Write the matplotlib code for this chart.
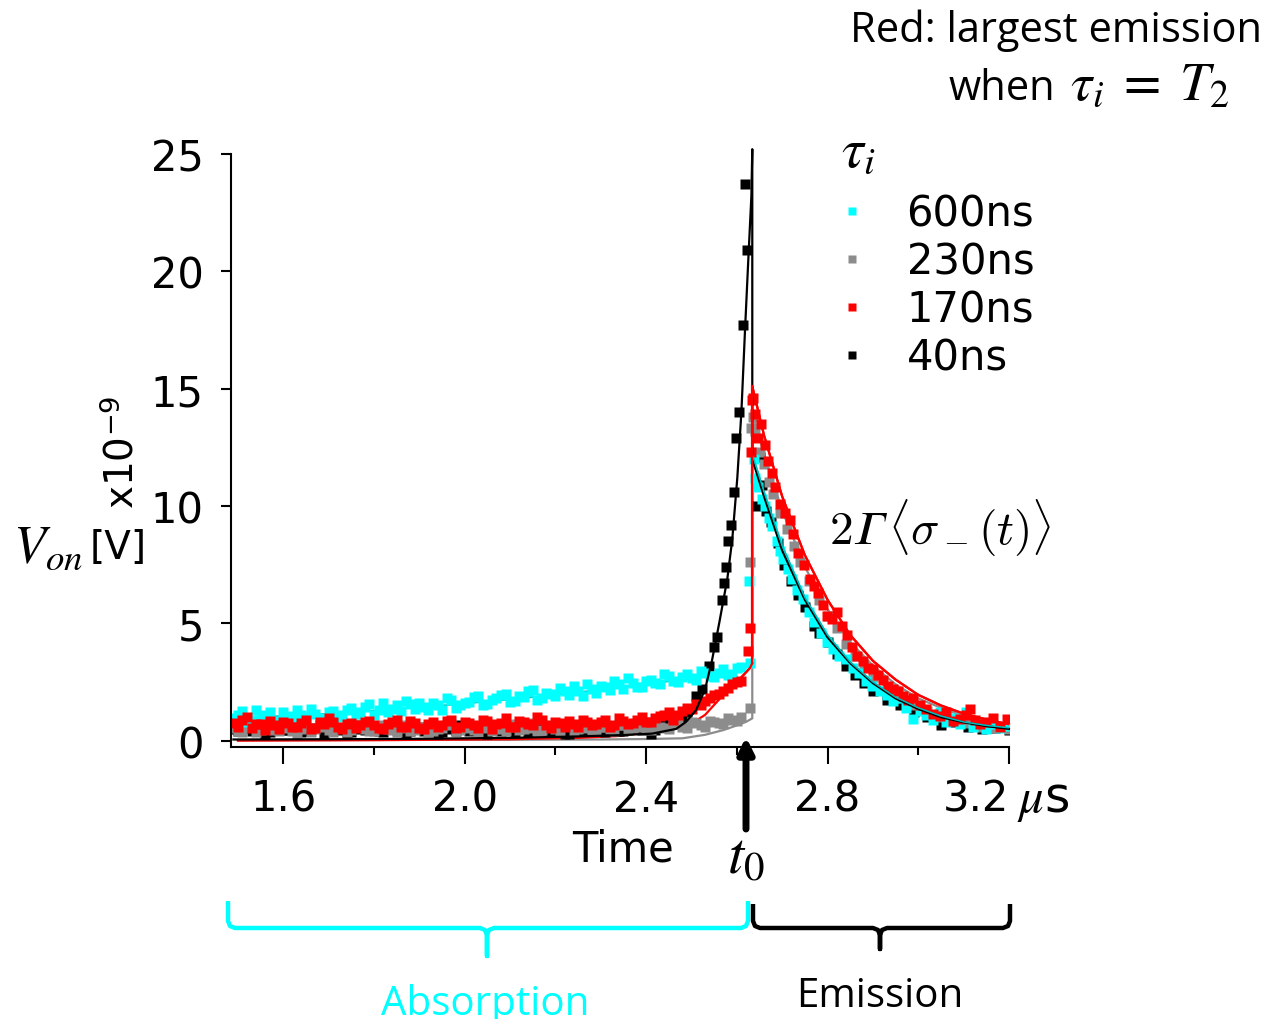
import matplotlib
matplotlib.use("Agg")
import matplotlib.pyplot as plt
from matplotlib.lines import Line2D

plt.rcParams['mathtext.fontset'] = 'stix'

# ---- data ----
t_abs = [1.49, 1.51, 1.53, 1.55, 1.57, 1.59, 1.61, 1.63, 1.65, 1.67,
         1.69, 1.71, 1.73, 1.75, 1.77, 1.79, 1.81, 1.83, 1.85, 1.87,
         1.89, 1.91, 1.93, 1.95, 1.97, 1.99, 2.01, 2.03, 2.05, 2.07,
         2.09, 2.11, 2.13, 2.15, 2.17, 2.19, 2.21, 2.23, 2.25, 2.27,
         2.29, 2.31, 2.33, 2.35, 2.37, 2.39, 2.41, 2.43, 2.45, 2.47,
         2.49, 2.51, 2.53, 2.55, 2.57, 2.59, 2.61]

cyan_abs = [0.95, 1.25, 0.9, 1.1, 1.2, 0.85, 1.05, 1.3, 1.0, 1.15,
            0.95, 1.25, 1.1, 1.4, 1.2, 1.55, 1.3, 1.2, 1.5, 1.7,
            1.35, 1.45, 1.6, 1.3, 1.75, 1.5, 1.65, 1.9, 1.55, 1.8,
            2.0, 1.7, 1.85, 2.15, 1.8, 2.0, 2.25, 1.95, 2.1, 2.4,
            2.05, 2.3, 2.55, 2.2, 2.45, 2.3, 2.6, 2.4, 2.75, 2.5,
            2.85, 2.6, 2.9, 2.7, 3.05, 2.85, 3.15]
red_abs = [0.75, 0.9, 0.55, 0.7, 0.85, 0.5, 0.75, 0.6, 0.9, 0.55,
           0.7, 0.8, 0.5, 0.75, 0.65, 0.85, 0.55, 0.7, 0.9, 0.6,
           0.75, 0.5, 0.8, 0.65, 0.9, 0.6, 0.75, 0.55, 0.85, 0.7,
           0.95, 0.6, 0.8, 0.65, 0.9, 0.55, 0.75, 0.85, 0.6, 0.8,
           0.7, 0.9, 0.65, 0.85, 0.75, 1.0, 0.8, 1.05, 1.2, 1.1,
           1.4, 1.55, 1.7, 1.95, 2.1, 2.4, 2.55]
gray_abs = [0.55, 0.35, 0.6, 0.45, 0.7, 0.4, 0.55, 0.3, 0.6, 0.5,
            0.65, 0.35, 0.55, 0.45, 0.7, 0.4, 0.6, 0.5, 0.35, 0.65,
            0.45, 0.6, 0.4, 0.55, 0.7, 0.45, 0.6, 0.35, 0.55, 0.65,
            0.4, 0.6, 0.5, 0.75, 0.45, 0.6, 0.4, 0.65, 0.5, 0.7,
            0.45, 0.6, 0.4, 0.65, 0.55, 0.7, 0.45, 0.6, 0.5, 0.7,
            0.55, 0.75, 0.6, 0.8, 0.7, 0.9, 1.0]
black_abs = [0.5, 0.65, 0.4, 0.55, 0.35, 0.6, 0.45, 0.7, 0.4, 0.55,
             0.3, 0.6, 0.45, 0.35, 0.6, 0.5, 0.4, 0.65, 0.45, 0.3,
             0.55, 0.4, 0.6, 0.35, 0.5, 0.65, 0.4, 0.55, 0.3, 0.5,
             0.6, 0.35, 0.55, 0.45, 0.65, 0.4, 0.5, 0.3, 0.6, 0.45,
             0.55, 0.35, 0.6, 0.4, 0.55, 0.45, 0.3, 0.6, 0.7, 0.9,
             1.2]
# in-between samples (second row of the noisy band)
t_abs2 = [1.50, 1.52, 1.54, 1.56, 1.58, 1.60, 1.62, 1.64, 1.66, 1.68,
          1.70, 1.72, 1.74, 1.76, 1.78, 1.80, 1.82, 1.84, 1.86, 1.88,
          1.90, 1.92, 1.94, 1.96, 1.98, 2.00, 2.02, 2.04, 2.06, 2.08,
          2.10, 2.12, 2.14, 2.16, 2.18, 2.20, 2.22, 2.24, 2.26, 2.28,
          2.30, 2.32, 2.34, 2.36, 2.38, 2.40, 2.42, 2.44, 2.46, 2.48,
          2.50, 2.52, 2.54, 2.56, 2.58, 2.60]
cyan_abs2 = [1.1, 0.8, 1.3, 1.0, 0.75, 1.2, 0.95, 1.1, 1.35, 0.9,
             1.2, 1.0, 1.3, 1.15, 1.45, 1.1, 1.6, 1.35, 1.25, 1.55,
             1.6, 1.3, 1.5, 1.8, 1.4, 1.6, 1.85, 1.5, 1.75, 1.95,
             1.65, 1.9, 2.1, 1.75, 2.05, 1.9, 2.1, 2.35, 1.9, 2.2,
             2.35, 2.15, 2.4, 2.65, 2.3, 2.55, 2.45, 2.85, 2.55, 2.7,
             2.65, 2.95, 2.75, 2.9, 2.8, 3.1]
red_abs2 = [0.6, 1.0, 0.7, 0.45, 0.65, 0.8, 0.6, 0.75, 0.5, 0.8,
            0.95, 0.6, 0.7, 0.55, 0.8, 0.65, 0.5, 0.8, 0.6, 0.85,
            0.55, 0.7, 0.6, 0.85, 0.55, 0.8, 0.65, 0.9, 0.5, 0.75,
            0.6, 0.85, 0.7, 1.0, 0.65, 0.8, 0.6, 0.7, 0.9, 0.65,
            0.8, 0.6, 0.95, 0.7, 0.9, 0.8, 0.95, 1.1, 0.9, 1.25,
            1.35, 1.5, 1.8, 2.0, 2.25, 2.5]
gray_abs2 = [0.4, 0.6, 0.35, 0.55, 0.45, 0.65, 0.4, 0.5, 0.35, 0.6,
             0.45, 0.55, 0.35, 0.6, 0.5, 0.4, 0.65, 0.45, 0.55, 0.4,
             0.6, 0.35, 0.5, 0.65, 0.4, 0.55, 0.45, 0.6, 0.4, 0.5,
             0.7, 0.45, 0.55, 0.4, 0.6, 0.5, 0.65, 0.4, 0.55, 0.45,
             0.6, 0.5, 0.65, 0.45, 0.6, 0.5, 0.65, 0.55, 0.75, 0.6,
             0.8, 0.65, 0.85, 0.75, 0.95, 0.85]
black_abs2 = [0.4, 0.55, 0.6, 0.3, 0.5, 0.45, 0.6, 0.35, 0.5, 0.65,
              0.4, 0.55, 0.3, 0.5, 0.45, 0.6, 0.35, 0.55, 0.5, 0.4,
              0.6, 0.45, 0.3, 0.55, 0.4, 0.6, 0.45, 0.35, 0.55, 0.4,
              0.5, 0.6, 0.35, 0.5, 0.45, 0.55, 0.3, 0.5, 0.4, 0.6,
              0.45, 0.55, 0.4, 0.5, 0.6, 0.5, 0.45, 0.65, 0.8, 1.0]
# black 40ns rises steeply before t0
black_rise_t = [2.51, 2.524, 2.539, 2.55, 2.557, 2.568, 2.572, 2.577, 2.581,
                2.588, 2.594, 2.599, 2.605, 2.614, 2.618, 2.623]
black_rise_v = [1.9, 2.2, 3.2, 4.0, 4.4, 6.0, 6.7, 7.4, 8.5,
                9.2, 10.6, 12.9, 14.0, 17.7, 23.7, 20.9]

# points sitting on the switch at t0
cyan_jump_t = [2.627, 2.629]
cyan_jump_v = [6.8, 3.3]
red_jump_t = [2.625, 2.628, 2.631, 2.633]
red_jump_v = [3.8, 4.8, 12.3, 14.5]
gray_jump_t = [2.628, 2.628, 2.631]
gray_jump_v = [1.4, 7.6, 13.3]

# emission side
cyan_em_t = [2.637, 2.641, 2.646, 2.655, 2.662, 2.67, 2.677, 2.688, 2.695, 2.702,
             2.712, 2.721, 2.733, 2.745, 2.758, 2.771, 2.785, 2.798, 2.811, 2.826,
             2.841, 2.855, 2.87, 2.885, 2.899, 2.915, 2.93, 2.945, 2.959, 2.974,
             2.988, 3.003, 3.018, 3.032, 3.047, 3.062, 3.077, 3.091, 3.106, 3.12,
             3.135, 3.15, 3.165, 3.18, 3.195]
cyan_em_v = [12.0, 11.2, 10.8, 10.3, 10.0, 9.5, 9.15, 8.5, 8.1, 7.75,
             7.3, 6.9, 6.4, 6.05, 5.5, 5.05, 4.6, 4.2, 3.9, 3.6,
             3.5, 3.1, 2.9, 2.55, 2.35, 2.1, 1.95, 1.7, 1.8, 1.4,
             0.92, 1.25, 1.1, 0.9, 1.2, 0.8, 0.95, 0.7, 1.2, 0.6,
             0.75, 0.5, 0.7, 0.55, 0.63]
red_em_t = [2.636, 2.641, 2.646, 2.654, 2.662, 2.668, 2.677, 2.684, 2.695, 2.706,
            2.717, 2.723, 2.734, 2.748, 2.761, 2.77, 2.779, 2.79, 2.798, 2.81,
            2.82, 2.831, 2.842, 2.853, 2.864, 2.878, 2.89, 2.9, 2.911, 2.922,
            2.933, 2.944, 2.955, 2.966, 2.977, 2.988, 3.003, 3.018, 3.032, 3.047,
            3.062, 3.077, 3.092, 3.105, 3.113, 3.125, 3.137, 3.15, 3.165, 3.18,
            3.195]
red_em_v = [14.6, 13.9, 12.9, 13.5, 12.6, 11.9, 11.4, 10.8, 10.1, 9.7,
            9.4, 8.8, 8.0, 7.5, 6.9, 6.6, 6.3, 5.8, 5.3, 5.2,
            5.5, 4.9, 4.5, 4.0, 3.6, 3.4, 3.1, 3.05, 2.8, 2.6,
            2.35, 2.2, 2.1, 1.9, 1.75, 1.8, 1.5, 1.35, 1.15, 1.05,
            1.2, 0.85, 0.92, 1.1, 1.35, 0.9, 0.7, 0.8, 0.95, 0.6,
            0.92]
gray_em_t = [2.636, 2.641, 2.65, 2.66, 2.67, 2.68, 2.695, 2.71, 2.725, 2.74,
             2.76, 2.78, 2.8, 2.82, 2.84, 2.86, 2.88, 2.9, 2.93, 2.96,
             2.99, 3.02, 3.05, 3.08, 3.11, 3.14, 3.17, 3.2]
gray_em_v = [13.8, 13.2, 12.3, 11.8, 11.0, 10.5, 9.7, 9.0, 8.3, 7.6,
             6.8, 6.0, 5.3, 4.8, 4.1, 3.6, 3.2, 2.7, 2.2, 1.8,
             1.5, 1.25, 1.0, 0.85, 0.75, 0.6, 0.55, 0.5]
black_em_t = [2.643, 2.65, 2.655, 2.665, 2.675, 2.69, 2.705, 2.72, 2.735, 2.75,
              2.77, 2.78, 2.8, 2.82, 2.84, 2.86, 2.88, 2.9, 2.93, 2.96,
              2.99, 3.02, 3.05, 3.08, 3.11, 3.14, 3.17, 3.2]
black_em_v = [10.0, 12.1, 10.9, 9.8, 9.3, 8.4, 7.5, 6.8, 6.2, 5.7,
              4.9, 4.6, 4.2, 3.7, 3.2, 2.8, 2.45, 2.1, 1.75, 1.5,
              1.2, 1.0, 0.65, 0.8, 0.6, 0.5, 0.55, 0.45]

# model curves
fit_em_t = [2.66, 2.70, 2.75, 2.80, 2.85, 2.90, 2.95, 3.00, 3.05, 3.10, 3.15, 3.20]
t_switch = 2.634

black_fit_t = [1.49, 1.7, 1.9, 2.1, 2.25, 2.35, 2.413, 2.466, 2.488, 2.51, 2.53,
               2.545, 2.561, 2.579, 2.59, 2.601, 2.61, 2.618, 2.625, 2.632, t_switch]
black_fit_v = [0.05, 0.06, 0.08, 0.12, 0.18, 0.24, 0.3, 0.5, 0.8, 1.3, 2.2,
               3.4, 5.0, 6.9, 8.6, 11.2, 14.0, 17.5, 20.4, 23.2, 25.2]
black_fit_em = [12.0, 10.4, 8.1, 6.0, 4.4, 3.3, 2.45, 1.8, 1.35, 1.0, 0.78, 0.62, 0.5]

cyan_fit_t = [1.49, 1.6, 1.7, 1.8, 1.9, 2.0, 2.1, 2.2, 2.3, 2.4, 2.5, 2.55, 2.6, t_switch]
cyan_fit_v = [1.0, 1.05, 1.15, 1.28, 1.42, 1.58, 1.76, 1.96, 2.17, 2.4, 2.66, 2.8, 3.0, 3.2]
cyan_fit_em = [12.2, 10.6, 8.3, 6.1, 4.5, 3.35, 2.5, 1.85, 1.4, 1.05, 0.8, 0.65, 0.55]

red_fit_t = [1.50, 1.8, 2.1, 2.25, 2.34, 2.42, 2.49, 2.53, 2.563, 2.59, 2.61, 2.629, t_switch]
red_fit_v = [0.0, 0.02, 0.06, 0.12, 0.2, 0.4, 0.6, 1.1, 1.8, 2.3, 2.7, 3.1, 3.3]
red_fit_em = [15.1, 13.0, 10.4, 7.9, 6.0, 4.5, 3.4, 2.6, 1.95, 1.5, 1.15, 0.9, 0.7]

gray_fit_t = [1.50, 1.8, 2.1, 2.3, 2.4, 2.48, 2.53, 2.57, 2.60, 2.62, t_switch]
gray_fit_v = [0.02, 0.03, 0.04, 0.05, 0.07, 0.1, 0.25, 0.45, 0.65, 0.8, 0.95]
gray_fit_em = [14.0, 12.2, 9.8, 7.4, 5.6, 4.2, 3.2, 2.4, 1.8, 1.4, 1.05, 0.8, 0.65]

labels = ['600ns', '230ns', '170ns', '40ns']
CYAN, GRAY, RED, BLACK = '#00FFFF', '#8C8C8C', '#FF0000', '#000000'

W, H = 1268, 1020
fig = plt.figure(figsize=(W / 100, H / 100), dpi=100)
ax = fig.add_axes([231 / W, 1 - 748 / H, 778 / W, 599 / H])
ms = 6.8


def fit_line(ta, va, vem, color, lw=1.6, z=1.5):
    ax.plot(ta + [t_switch] + fit_em_t, va + vem, color=color, lw=lw,
            clip_on=False, zorder=z)


fit_line(gray_fit_t, gray_fit_v, gray_fit_em, '#8C8C8C')
fit_line(cyan_fit_t, cyan_fit_v, cyan_fit_em, '#00C8C8', lw=1.3)
fit_line(red_fit_t, red_fit_v, red_fit_em, RED)

# markers: black, gray, cyan, red (red on top)
hb, = ax.plot(t_abs[:51] + t_abs2[:50] + black_rise_t + black_em_t,
              black_abs + black_abs2 + black_rise_v + black_em_v,
              's', color=BLACK, ms=ms, mec='none', zorder=2)
hg, = ax.plot(t_abs + t_abs2 + gray_jump_t + gray_em_t,
              gray_abs + gray_abs2 + gray_jump_v + gray_em_v,
              's', color=GRAY, ms=ms, mec='none', zorder=2.1)
hc, = ax.plot(t_abs + t_abs2 + cyan_jump_t + cyan_em_t,
              cyan_abs + cyan_abs2 + cyan_jump_v + cyan_em_v,
              's', color=CYAN, ms=ms, mec='none', zorder=2.2)
hr, = ax.plot(t_abs + t_abs2 + red_jump_t + red_em_t,
              red_abs + red_abs2 + red_jump_v + red_em_v,
              's', color=RED, ms=ms, mec='none', zorder=2.3)

# lines that show over the markers
fit_line(black_fit_t, black_fit_v, black_fit_em, BLACK, z=3)
ax.plot([t_switch] + fit_em_t, cyan_fit_em, color='#00BEBE', lw=1.1, zorder=3)
ax.plot([t_switch] + fit_em_t, red_fit_em, color=RED, lw=1.6, zorder=3)
ax.plot(red_fit_t[-3:], red_fit_v[-3:], color=RED, lw=1.6, zorder=3)
ax.plot([t_switch, t_switch], [red_fit_v[-1], red_fit_em[0]], color=RED, lw=1.6, zorder=3)

ax.set_xlim(1.4847, 3.2)
ax.set_ylim(-0.27, 25.25)
for s in ['top', 'right']:
    ax.spines[s].set_visible(False)
for s in ['left', 'bottom']:
    ax.spines[s].set_linewidth(1.5)
ax.spines['left'].set_bounds(-0.27, 25)
ax.set_xticks([1.6, 2.0, 2.4, 2.8, 3.2])
ax.set_xticklabels(['1.6', '2.0', '2.4', '2.8', '3.2'])
ax.set_xticks([1.8, 2.2, 2.6, 3.0], minor=True)
ax.set_yticks([0, 5, 10, 15, 20, 25])
ax.tick_params(axis='x', which='major', length=12, width=1.5, pad=10, labelsize=30)
ax.tick_params(axis='x', which='minor', length=6, width=1.5)
ax.tick_params(axis='y', length=7.5, width=1.5, pad=12, labelsize=30)
ax.get_xticklabels()[-1].set_horizontalalignment('right')

# legend
leg = ax.legend([hc, hg, hr, hb], labels, loc='upper left',
                bbox_to_anchor=(819 / W, 1 - 173 / H), bbox_transform=fig.transFigure,
                frameon=False, fontsize=30, handlelength=0.6, handletextpad=1.0,
                labelspacing=0.14, markerscale=0.75, borderpad=0)
fig.text(841 / W, 1 - 152 / H, r'$\tau_i$', fontsize=40, ha='left', va='center')

# axis labels and annotations
fig.text(48 / W, 1 - 548 / H, r'$V_{on}$', fontsize=38, ha='center', va='center')
fig.text(118 / W, 1 - 548 / H, '[V]', fontsize=28, ha='center', va='center')
fig.text(122 / W, 1 - 452 / H, r'x10$^{\mathregular{-9}}$', fontsize=28, rotation=90,
         ha='center', va='center')
fig.text(1017 / W, 1 - 812 / H, r'$\mu$s', fontsize=35, ha='left', va='baseline')
fig.text(623 / W, 1 - 850 / H, 'Time', fontsize=30, ha='center', va='center')
fig.text(746 / W, 1 - 857 / H, r'$t_0$', fontsize=42, ha='center', va='center')
fig.text(940 / W, 1 - 528 / H, '$2\U0001D6E4\\,\\langle\\sigma_-(t)\\rangle$',
         fontsize=34, ha='center', va='center', math_fontfamily='cm')
ax.annotate('', xy=(746 / W, 1 - 738 / H), xytext=(746 / W, 1 - 830 / H),
            xycoords='figure fraction', textcoords='figure fraction',
            arrowprops=dict(arrowstyle='-|>,head_length=0.9,head_width=0.45',
                            lw=5, color='black', shrinkA=0, shrinkB=0))

fig.text(1262 / W, 1 - 42 / H, 'Red: largest emission', fontsize=30,
         family='Open Sans', ha='right', va='baseline')
fig.text(1055 / W, 1 - 100 / H, 'when', fontsize=30,
         family='Open Sans', ha='right', va='baseline')
fig.text(1070 / W, 1 - 100 / H, r'$\tau_i\;=\;T_2$', fontsize=39,
         ha='left', va='baseline')


def brace(x0, x1, xm, ytop, ybar, ytip, color):
    r = 7
    xs = [x0, x0, x0 + 2, x0 + r, xm - r, xm - 2, xm, xm, xm, xm + 2, xm + r,
          x1 - r, x1 - 2, x1, x1]
    ys = [ytop, ybar - r, ybar - 2, ybar, ybar, ybar + 2, ybar + r, ytip,
          ybar + r, ybar + 2, ybar, ybar, ybar - 2, ybar - r, ytop]
    fig.add_artist(Line2D([x / W for x in xs], [1 - y / H for y in ys],
                          color=color, lw=3.2, solid_joinstyle='round',
                          solid_capstyle='butt'))


brace(228, 748, 487, 902, 929, 957, CYAN)
brace(753, 1010, 880, 905, 929, 950, BLACK)
fig.text(485 / W, 1 - 1015 / H, 'Absorption', fontsize=29, family='Open Sans',
         color=CYAN, ha='center', va='baseline')
fig.text(880 / W, 1 - 1007 / H, 'Emission', fontsize=29, family='Open Sans',
         color=BLACK, ha='center', va='baseline')

fig.savefig('out.png', dpi=100)
